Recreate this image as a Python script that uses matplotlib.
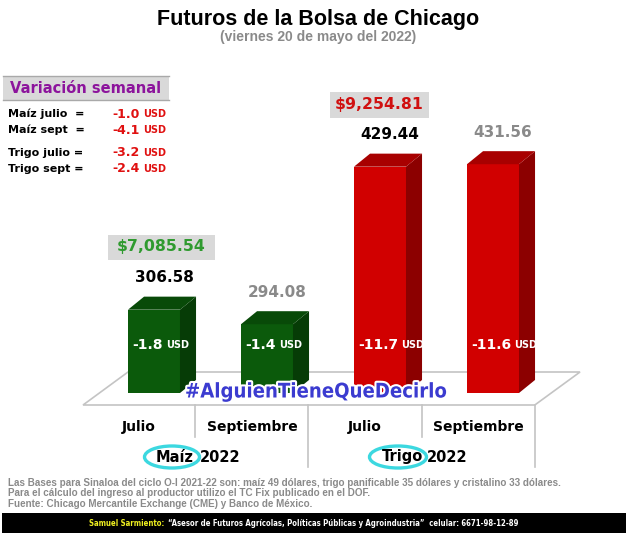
import os
import matplotlib
matplotlib.use("Agg")
import matplotlib.pyplot as plt
from matplotlib.patches import Polygon, Rectangle, Ellipse
from matplotlib import font_manager as fm
from matplotlib.font_manager import FontProperties
import matplotlib.patheffects as pe
import numpy as np

# ---------------- data ----------------
categories = ["Julio", "Septiembre", "Julio", "Septiembre"]
groups = ["Maíz", "Trigo"]
group_year = "2022"
prices = [306.58, 294.08, 429.44, 431.56]
weekly_change = [-1.8, -1.4, -11.7, -11.6]
ton_prices = [7085.54, 9254.81]
var_labels = ["Maíz julio  =", "Maíz sept  =", "Trigo julio =", "Trigo sept ="]
var_values = [-1.0, -4.1, -3.2, -2.4]

title = "Futuros de la Bolsa de Chicago"
subtitle = "(viernes 20 de mayo del 2022)"
notes = [
    "Las Bases para Sinaloa del ciclo O-I 2021-22 son: maíz 49 dólares, trigo panificable 35 dólares y cristalino 33 dólares.",
    "Para el cálculo del ingreso al productor utilizo el TC Fix publicado en el DOF.",
    "Fuente: Chicago Mercantile Exchange (CME) y Banco de México.",
]
footer_name = "Samuel Sarmiento:"
footer_text = "\u201cAsesor de Futuros Agrícolas, Políticas Públicas y Agroindustria\u201d  celular: 6671-98-12-89"
hashtag = "#AlguienTieneQueDecirlo"

# ---------------- styles ----------------
front_cols = ["#0b5a0b", "#0b5a0b", "#d10000", "#d10000"]
side_cols = ["#063c06", "#063c06", "#8c0000", "#8c0000"]
top_cols = ["#084a08", "#084a08", "#a80000", "#a80000"]
label_cols = ["black", "#8a8a8a", "black", "#8a8a8a"]
ton_cols = ["#2f9a2f", "#d01010"]

# find a condensed font file if any is installed
cond_file = None
cands = []
for f in fm.fontManager.ttflist:
    fn = os.path.basename(f.fname).lower()
    if ("condensed" in fn or "narrow" in fn) and "italic" not in fn and "oblique" not in fn:
        cands.append(f.fname)
cands.sort(key=lambda p: (0 if "bold" in os.path.basename(p).lower() else 1, len(p)))
if cands:
    cond_fp = FontProperties(fname=cands[0])
else:
    cond_fp = FontProperties(family="DejaVu Sans", weight="bold")

W, H = 628, 536
fig = plt.figure(figsize=(W / 100, H / 100), dpi=100)
fig.patch.set_facecolor("white")
renderer = fig.canvas.get_renderer()

BOLD = dict(family="DejaVu Sans", weight="bold")
ARIAL_B = dict(family="Liberation Sans", weight="bold")

# data axes for the bars
BASE = 235.0
PXU = 1.164
ax = fig.add_axes([41 / W, (H - 393) / H, 565 / W, (393 - 140) / H])
ax.set_xlim(-1, 4)
ax.set_ylim(BASE, BASE + (393 - 140) / PXU)
ax.axis("off")

x = np.arange(len(prices))
vals = np.array(prices)
bw = 0.46
ddx, ddy = 0.142, 11.2

floor_front = BASE - 12 / PXU
floor_back = BASE + 21 / PXU
ax.add_patch(Polygon([(-0.628, floor_front), (-0.23, floor_back), (3.77, floor_back), (3.37, floor_front)],
                     closed=True, facecolor="white", edgecolor="#c4c4c4", lw=1.2, clip_on=False, zorder=0))

ax.bar(x, vals - BASE, bottom=BASE, width=bw, color=front_cols, linewidth=0, zorder=3)
for xi, v, sc, tc in zip(x, vals, side_cols, top_cols):
    r = xi + bw / 2
    l = xi - bw / 2
    ax.add_patch(Polygon([(r, BASE), (r + ddx, BASE + ddy), (r + ddx, v + ddy), (r, v)],
                         closed=True, facecolor=sc, edgecolor="none", zorder=3))
    ax.add_patch(Polygon([(l, v), (l + ddx, v + ddy), (r + ddx, v + ddy), (r, v)],
                         closed=True, facecolor=tc, edgecolor="none", zorder=3))

for xi, v, c in zip(x, vals, label_cols):
    ax.text(xi + 0.09, v + 27.5, f"{v:.2f}", ha="center", va="center", color=c, fontsize=11, **BOLD,
            clip_on=False, zorder=5)

for xi, ch in zip(x, weekly_change):
    tn = ax.text(xi - bw / 2 + 0.035, 276, f"{ch:.1f}", ha="left", va="center", color="white",
                 fontsize=10, **BOLD, zorder=5)
    ax.annotate("USD", xy=(1, 0.5), xycoords=tn, xytext=(2.5, 0), textcoords="offset points",
                ha="left", va="center", color="white", fontsize=7, **BOLD, zorder=5)

# overlay axes in pixel coordinates
ov = fig.add_axes([0, 0, 1, 1])
ov.set_xlim(0, W)
ov.set_ylim(H, 0)
ov.axis("off")
ov.patch.set_alpha(0)

ov.text(318, 19, title, ha="center", va="center", fontsize=15.5, color="black", **ARIAL_B)
ov.text(318, 37, subtitle, ha="center", va="center", fontsize=10, color="#8a8a8a", **ARIAL_B)

ov.add_patch(Rectangle((3, 76), 166, 24, facecolor="#d9d9d9", edgecolor="none"))
ov.plot([3, 169], [76, 76], color="#a9a9a9", lw=1)
ov.plot([3, 169], [100, 100], color="#a9a9a9", lw=1)
ov.text(86, 88.5, "Variación semanal", ha="center", va="center", fontsize=10.5, color="#8c149c", **BOLD)
var_y = [114, 130, 153, 169]
for lab, val, yy in zip(var_labels, var_values, var_y):
    ov.text(8, yy, lab, ha="left", va="center", fontsize=8, color="black", **BOLD)
    ov.text(140, yy, f"{val:.1f}", ha="right", va="center", fontsize=9, color="#e01010", **BOLD)
    ov.text(143, yy, "USD", ha="left", va="center", fontsize=7, color="#e01010", **BOLD)

box_specs = [(108, 235, 107, 25, 161, 247), (330, 92, 99, 26, 379, 105)]
for (bx, by, bwid, bh, tx, ty), tp, tc in zip(box_specs, ton_prices, ton_cols):
    ov.add_patch(Rectangle((bx, by), bwid, bh, facecolor="#d9d9d9", edgecolor="none"))
    ov.text(tx, ty, f"${tp:,.2f}", ha="center", va="center", fontsize=11.3, color=tc, **BOLD)

for xs, y2 in [(195, 437), (308, 467), (422, 437), (535, 467)]:
    ov.plot([xs, xs], [405, y2], color="#c4c4c4", lw=1.2)
for i, cat in enumerate(categories):
    ov.text(139 + 113 * i, 427, cat, ha="center", va="center", fontsize=10, color="black", **BOLD)

for gcx, g in zip([175, 402], groups):
    ov.text(gcx, 457, g, ha="center", va="center", fontsize=10.5, color="black", **BOLD)
    ov.text(gcx + 25, 457, group_year, ha="left", va="center", fontsize=10.5, color="black", **BOLD)
ov.add_patch(Ellipse((172, 457), 55, 22, facecolor="none", edgecolor="#3cd8e0", lw=2.4))
ov.add_patch(Ellipse((398, 457), 57, 22, facecolor="none", edgecolor="#3cd8e0", lw=2.4))

for i, n in enumerate(notes):
    ov.text(8, 483 + 10.5 * i, n, ha="left", va="center", fontsize=7.1, color="#8a8a8a", **ARIAL_B)

# footer
ov.add_patch(Rectangle((2, 513), 624, 20, facecolor="black", edgecolor="none"))
t1 = ov.text(89, 523, footer_name, ha="left", va="center", fontproperties=cond_fp, color="#f0f020")
t2 = ov.annotate(footer_text, xy=(1, 0.5), xycoords=t1, xytext=(3, 0), textcoords="offset points",
                 ha="left", va="center", fontproperties=cond_fp, color="white")
t1.set_fontsize(8)
t2.set_fontsize(8)
w_tot = t1.get_window_extent(renderer).width + t2.get_window_extent(renderer).width + 4
fs = min(8.5, 8 * 426 / w_tot)
t1.set_fontsize(fs)
t2.set_fontsize(fs)

# hashtag watermark
th = ov.text(315, 392, hashtag, ha="center", va="center", fontproperties=cond_fp, color="#3b3bd0", zorder=10,
             path_effects=[pe.withStroke(linewidth=3, foreground="white")])
th.set_fontsize(18)
wh = th.get_window_extent(renderer).width
th.set_fontsize(min(20, 18 * 262 / wh))

fig.savefig("out.png", dpi=100, facecolor="white")
